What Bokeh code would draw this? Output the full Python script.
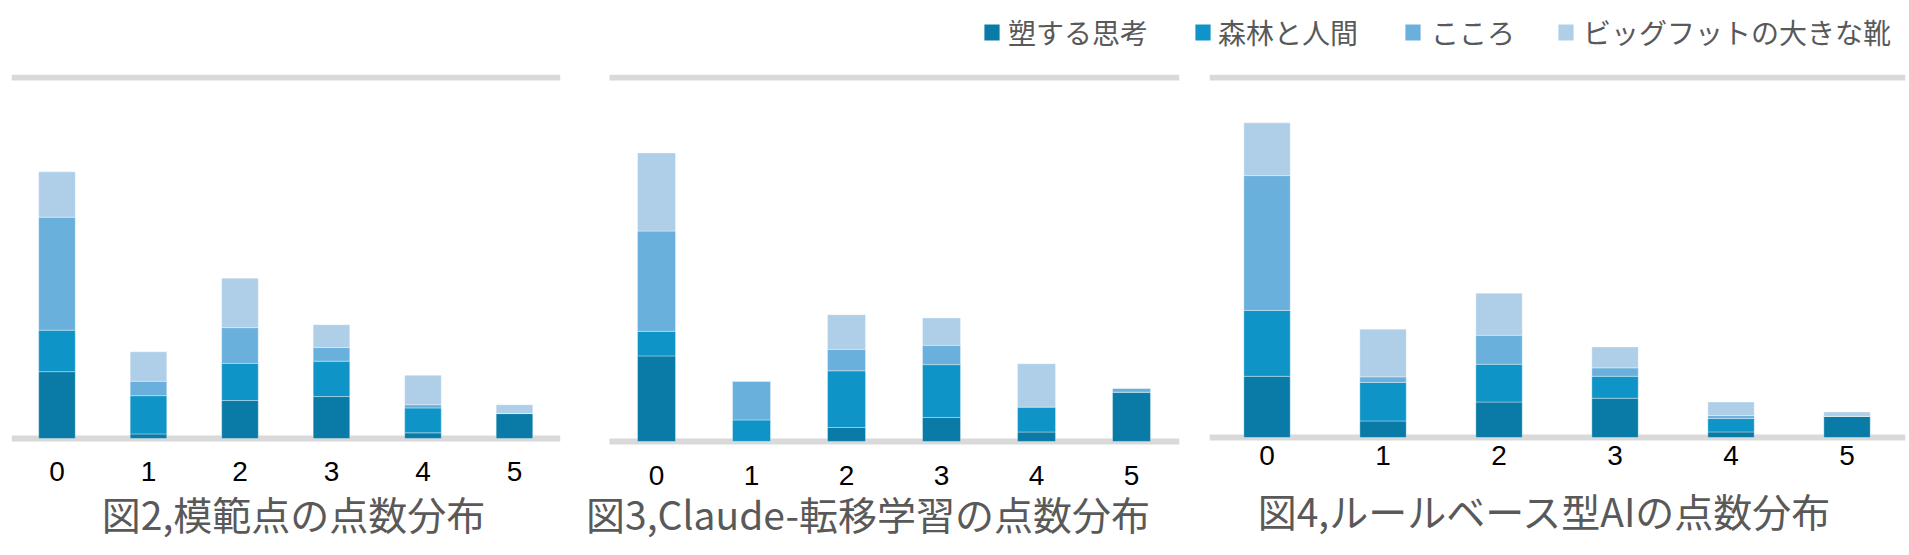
from bokeh.plotting import figure
from bokeh.models import (Range1d, Label, Legend, LegendItem, ColumnDataSource)
from bokeh.core.properties import value
from bokeh.layouts import column, row
from bokeh.embed import file_html
from bokeh.resources import INLINE

# ---------------- data ----------------
categories = ["0", "1", "2", "3", "4", "5"]
series = ["塑する思考", "森林と人間", "こころ", "ビッグフットの大きな靴"]
colors = ["#0A7AA6", "#0F94C7", "#6AB0DC", "#AFCEE8"]
axis_max = 200
grid_values = [0, axis_max]

titles = ["図2,模範点の点数分布", "図3,Claude-転移学習の点数分布", "図4,ルールベース型AIの点数分布"]

# 図2 模範点 (% of essays per score, each series)
c2_shiko = [37.0, 2.5, 21.0, 23.2, 3.1, 13.8]
c2_shinrin = [23.0, 21.2, 20.6, 19.6, 13.8, 0.0]
c2_kokoro = [62.6, 8.0, 19.8, 7.6, 1.8, 0.0]
c2_bigfoot = [25.1, 16.3, 27.4, 12.6, 16.3, 4.9]

# 図3 Claude-転移学習
c3_shiko = [47.0, 0.0, 7.7, 13.2, 5.2, 27.1]
c3_shinrin = [13.5, 11.8, 31.1, 29.0, 13.7, 0.0]
c3_kokoro = [55.1, 21.3, 11.8, 10.6, 0.0, 2.1]
c3_bigfoot = [42.9, 0.0, 19.0, 15.1, 23.8, 0.0]

# 図4 ルールベース型AI
c4_shiko = [34.0, 9.2, 19.7, 21.8, 3.1, 11.8]
c4_shinrin = [36.6, 21.4, 21.0, 12.2, 7.5, 0.0]
c4_kokoro = [74.9, 3.1, 16.1, 4.7, 1.6, 0.0]
c4_bigfoot = [29.3, 26.5, 23.4, 11.6, 7.5, 2.4]

PAGE_H = 555
LEG_H = 63
ROW_H = PAGE_H - LEG_H
GRID_COLOR = "#D9D9D9"
TEXT_GRAY = "#595959"
CJK = "Noto Sans CJK JP"


def make_chart(vals, title, width, bl, br, bt, xs, xe, gx0, gx1, y0, y1, tick_y, tx, ty):
    keys = ["s0", "s1", "s2", "s3"]
    xpos = list(range(len(categories)))
    data = {"x": xpos}
    for k, v in zip(keys, vals):
        data[k] = v
    src = ColumnDataSource(data)
    p = figure(width=width, height=ROW_H, output_backend="svg", toolbar_location=None,
               x_range=Range1d(xs, xe), y_range=Range1d(y0, y1),
               x_axis_location=None, y_axis_location=None, title_location=None,
               min_border_left=bl, min_border_right=br,
               min_border_top=bt, min_border_bottom=0)
    p.outline_line_color = None
    p.background_fill_color = "white"
    p.border_fill_color = "white"
    p.grid.visible = False
    # horizontal gridlines (0 and axis maximum), spanning the category area
    gsrc = ColumnDataSource({"x0": [gx0] * len(grid_values), "x1": [gx1] * len(grid_values),
                             "y": grid_values})
    p.segment(x0="x0", x1="x1", y0="y", y1="y", source=gsrc,
              line_color=GRID_COLOR, line_width=6, level="underlay")
    p.vbar_stack(keys, x="x", width=0.4, fill_color=colors,
                 line_color="white", line_alpha=0.35, line_width=1, source=src)
    # category tick labels
    lab_src = ColumnDataSource({"x": xpos, "y": [tick_y] * len(xpos), "t": categories})
    p.text(x="x", y="y", text="t", source=lab_src, text_align="center",
           text_baseline="middle", text_font=value("Liberation Sans"),
           text_font_size="28px", text_color="black")
    # chart caption
    p.add_layout(Label(x=tx, y=ty, x_units="screen", y_units="screen", text=title,
                       text_align="center", text_baseline="middle",
                       text_font=CJK, text_font_size="39px", text_color=TEXT_GRAY))
    return p


# page-y helpers: frame bottom is the canvas bottom (page y = 555)
def chart_ranges(grid_top, base, frame_top):
    k = (base - grid_top) / axis_max
    return -(PAGE_H - base) / k, axis_max + (grid_top - frame_top) / k, k


# 図2
g1, b1 = 69, 436
y0, y1, k1 = chart_ranges(g1, b1, g1 - 3)
f1 = make_chart([c2_shiko, c2_shinrin, c2_kokoro, c2_bigfoot], titles[0],
                585, 11, 25, g1 - 3 - LEG_H, -0.497, 5.503, -0.497, 5.503, y0, y1,
                -(469.5 - b1) / k1, 282, PAGE_H - 512)

# 図3 (frame starts further left so that the caption is not cut)
g2, b2 = 73, 440
y0, y1, k2 = chart_ranges(g2, b2, g2 - 3)
f2 = make_chart([c3_shiko, c3_shinrin, c3_kokoro, c3_bigfoot], titles[1],
                609, 1, 15, g2 - 3 - LEG_H, -0.737, 5.505, -0.495, 5.505, y0, y1,
                -(474 - b2) / k2, 281.5, PAGE_H - 512.4)

# 図4
g3, b3 = 77, 437
y0, y1, k3 = chart_ranges(g3, b3, g3 - 3)
f3 = make_chart([c4_shiko, c4_shinrin, c4_kokoro, c4_bigfoot], titles[2],
                715, 15, 4, g3 - 3 - LEG_H, -0.496, 5.504, -0.496, 5.504, y0, y1,
                -(455 - b3) / k3, 335.5, PAGE_H - 509.6)

# legend strip
lf = figure(width=1909, height=LEG_H, output_backend="svg", toolbar_location=None,
            x_range=Range1d(0, 1), y_range=Range1d(0, 1), title_location=None,
            x_axis_location=None, y_axis_location=None, min_border=0)
lf.grid.visible = False
lf.outline_line_color = None
rends = [lf.vbar(x=[0.5], top=[1], bottom=[0], width=0.1, fill_color=c,
                 line_color=None, visible=False) for c in colors]
leg_x = [982, 1193, 1403, 1556]
leg_stand = [7, 6, 9, 8]
leg_y = 11
for name, r, lx, sd in zip(series, rends, leg_x, leg_stand):
    lg = Legend(items=[LegendItem(label=value(name), renderers=[r])],
                location=(lx, leg_y), orientation="horizontal",
                glyph_width=19, glyph_height=20, label_standoff=sd,
                label_height=20, padding=0, margin=0, spacing=0,
                border_line_color=None, background_fill_alpha=0,
                inactive_fill_alpha=0,
                label_text_font=CJK, label_text_font_size="28px",
                label_text_color=TEXT_GRAY)
    lf.add_layout(lg)

layout = column(lf, row(f1, f2, f3))
open("out.html", "w").write(file_html(layout, INLINE))
